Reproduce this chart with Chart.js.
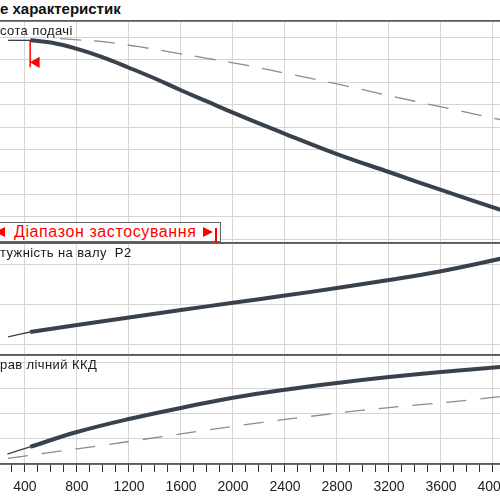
<!DOCTYPE html>
<html>
<head>
<meta charset="utf-8">
<script src="https://cdn.jsdelivr.net/npm/chart.js@4"></script>
<style>
  body { margin: 0; width: 500px; height: 500px; overflow: hidden; background: #fff; position: relative; font-family: "Liberation Sans", Arial, sans-serif; }
  canvas { position: absolute; left: 0; }
  .lbl { position: absolute; left: 0; font-size: 13px; line-height: 13px; color: #1a1a1a; white-space: pre; z-index: 5; letter-spacing: 0.4px; }
  #title { position: absolute; left: 0; top: 1px; font-size: 15px; line-height: 15px; font-weight: bold; color: #111; z-index: 5; }
  #range { position: absolute; left: -2px; top: 222px; width: 221px; height: 18px; border: 1px solid #666; background: #fff; z-index: 6; }
  #range .txt { position: absolute; left: 15px; top: 0px; font-size: 16px; line-height: 17px; color: #ff0000; letter-spacing: 0.6px; white-space: nowrap; }
  .triL { position: absolute; top: 4px; left: -4px; width: 0; height: 0; border-top: 5px solid transparent; border-bottom: 5px solid transparent; border-right: 10px solid #ff0000; }
  .triR { position: absolute; top: 4px; left: 204px; width: 0; height: 0; border-top: 5px solid transparent; border-bottom: 5px solid transparent; border-left: 10px solid #ff0000; }
  #rangeBar { position: absolute; left: 215px; top: 228px; width: 2px; height: 15px; background: #ff0000; z-index: 7; }
</style>
</head>
<body>
<div id="title">е характеристик</div>
<div class="lbl" style="top:24px">сота подачі</div>
<div class="lbl" style="top:246px">тужність на валу  P2</div>
<div class="lbl" style="top:358px">рав лічний ККД</div>
<div id="range"><div class="triL"></div><div class="txt">Діапазон застосування</div><div class="triR"></div></div>
<div id="rangeBar"></div>

<canvas id="headChart" width="500" height="230" style="top:17px"></canvas>
<canvas id="powerChart" width="500" height="120" style="top:239px"></canvas>
<canvas id="effChart" width="500" height="149" style="top:351px"></canvas>

<script>
// flow Q, m3/h
const Q_MIN = 208;
const Q_MAX = 4054;
const Q_LABELS = [400, 800, 1200, 1600, 2000, 2400, 2800, 3200, 3600, 4000];

// head H, m
const H_MIN = 9.2, H_MAX = 58.6;
const H_TICKS = [10, 15, 20, 25, 30, 35, 40, 45, 50, 55];
const Q_HEAD_THIN = [270, 440];
const H_HEAD_THIN = [54.3, 54.3];
const Q_HEAD = [440, 600, 800, 1000, 1200, 1400, 1600, 1800, 2000, 2200, 2400, 2800, 3200, 3600, 4100];
const H_HEAD = [54.3, 53.8, 52.4, 50.5, 48.2, 45.8, 43.2, 40.7, 38.2, 35.8, 33.5, 29.0, 25.0, 21.0, 16.2];
const Q_HEAD_REF = [670, 800, 1000, 1200, 1400, 1600, 1800, 2000, 2200, 2400, 2800, 3200, 3600, 4100];
const H_HEAD_REF = [54.7, 54.4, 54.0, 53.2, 52.3, 51.3, 50.3, 49.3, 48.2, 47.0, 44.6, 42.0, 39.5, 36.4];
const Q_MARK = [440, 440];
const H_MARK = [54.3, 48.3];
const Q_ARROW = [488];
const H_ARROW = [49.4];

// power P2, kW
const P_MIN = 0.725, P_MAX = 3.525;
const P_TICKS = [1, 2, 3];
const Q_POWER_THIN = [270, 440];
const P_POWER_THIN = [1.18, 1.30];
const Q_POWER = [440, 800, 1200, 1600, 2000, 2400, 2800, 3200, 3600, 4100];
const P_POWER = [1.30, 1.475, 1.66, 1.85, 2.03, 2.21, 2.40, 2.60, 2.82, 3.16];

// hydraulic efficiency, %
const E_MIN = 0, E_MAX = 86.3;
const E_TICKS = [20, 40, 60, 80];
const Q_EFF_THIN = [265, 440];
const E_EFF_THIN = [7.9, 13.6];
const Q_EFF = [440, 800, 1200, 1600, 2000, 2400, 2800, 3200, 3600, 4100];
const E_EFF = [13.6, 25.3, 35.6, 44.4, 52.4, 58.8, 64.2, 68.9, 72.9, 77.2];
const Q_EFF_REF = [270, 600, 1000, 1400, 1800, 2200, 2600, 3000, 3400, 3800, 4100];
const E_EFF_REF = [4.4, 9.2, 14.9, 20.8, 26.9, 32.6, 37.8, 42.6, 46.6, 50.4, 53.9];

const LINE = "#39424c";
const DASH = "#8c8c8c";
const GRID = "#d6d6d6";
const BORDER = "#5a5a5a";

Chart.defaults.font.family = '"Liberation Sans", Arial, sans-serif';
Chart.defaults.animation = false;

function pts(xs, ys) {
  return xs.map((x, i) => ({ x: x, y: ys[i] }));
}

function curve(xs, ys, width, color, dash) {
  return {
    data: pts(xs, ys),
    borderColor: color,
    borderWidth: width,
    borderDash: dash || [],
    pointRadius: 0,
    tension: 0.4,
    fill: false,
  };
}

function xAxis(showTicks) {
  return {
    type: "linear",
    min: Q_MIN,
    max: Q_MAX,
    afterBuildTicks: (s) => {
      const t = [];
      for (let q = 300; q <= 4000; q += 100) t.push({ value: q });
      s.ticks = t;
    },
    afterFit: (s) => {
      s.height = showTicks ? 36 : 0;
      s.paddingLeft = 0;
      s.paddingRight = 0;
    },
    border: { display: showTicks, color: BORDER, width: 1.5 },
    grid: {
      color: (ctx) => (Q_LABELS.includes(ctx.tick.value) ? GRID : "rgba(0,0,0,0)"),
      drawTicks: showTicks,
      tickLength: 8,
      tickColor: "#333",
      tickWidth: 1,
    },
    ticks: {
      display: showTicks,
      autoSkip: false,
      maxRotation: 0,
      padding: 7,
      color: "#222",
      font: { size: 14 },
      callback: (v) => (Q_LABELS.includes(v) ? String(v) : ""),
    },
  };
}

function yAxis(min, max, ticks) {
  const edge = (ctx) => ctx.tick && (ctx.tick.value === min || ctx.tick.value === max);
  return {
    type: "linear",
    min: min,
    max: max,
    afterBuildTicks: (s) => {
      s.ticks = [min].concat(ticks, [max]).map((v) => ({ value: v }));
    },
    afterFit: (s) => {
      s.width = 0;
    },
    ticks: { display: false },
    border: { display: false },
    grid: {
      drawTicks: false,
      color: (ctx) => (edge(ctx) ? BORDER : GRID),
      lineWidth: (ctx) => (edge(ctx) ? 1.8 : 1),
    },
  };
}

function makeChart(id, datasets, yMin, yMax, yTicks, showX, padTop, padBottom) {
  return new Chart(document.getElementById(id), {
    type: "line",
    data: { datasets: datasets },
    options: {
      responsive: false,
      layout: { autoPadding: false, padding: { top: padTop, bottom: padBottom, left: 0, right: 0 } },
      plugins: { legend: { display: false }, tooltip: { enabled: false } },
      scales: { x: xAxis(showX), y: yAxis(yMin, yMax, yTicks) },
    },
  });
}

makeChart("headChart", [
  curve(Q_HEAD_REF, H_HEAD_REF, 1.3, DASH, [21, 13]),
  curve(Q_HEAD_THIN, H_HEAD_THIN, 1.3, LINE),
  curve(Q_HEAD, H_HEAD, 4, LINE),
  curve(Q_MARK, H_MARK, 1.5, "#ff0000"),
  {
    data: pts(Q_ARROW, H_ARROW),
    showLine: false,
    pointStyle: "triangle",
    rotation: 270,
    pointRadius: 6.5,
    pointBackgroundColor: "#ff0000",
    pointBorderWidth: 0,
  },
], H_MIN, H_MAX, H_TICKS, false, 4, 4);

makeChart("powerChart", [
  curve(Q_POWER_THIN, P_POWER_THIN, 1.3, LINE),
  curve(Q_POWER, P_POWER, 4, LINE),
], P_MIN, P_MAX, P_TICKS, false, 4, 4);

makeChart("effChart", [
  curve(Q_EFF_REF, E_EFF_REF, 1.3, DASH, [20, 14]),
  curve(Q_EFF_THIN, E_EFF_THIN, 1.3, LINE),
  curve(Q_EFF, E_EFF, 4, LINE),
], E_MIN, E_MAX, E_TICKS, true, 4, 0);
</script>
</body>
</html>
